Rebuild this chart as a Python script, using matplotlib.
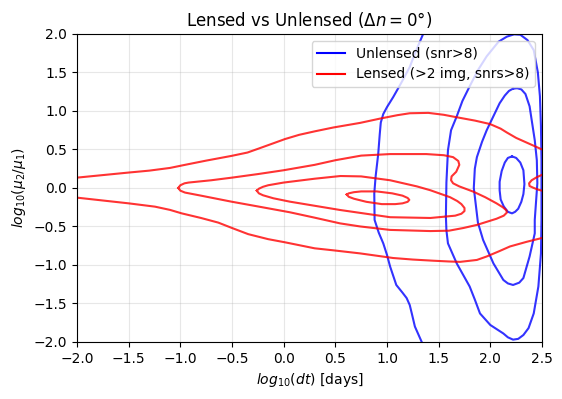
import numpy as np
import matplotlib
matplotlib.use('Agg')
import matplotlib.pyplot as plt
from matplotlib.lines import Line2D

# contour lines (x = log10 dt, y = log10 mu2/mu1)
# lensed, outermost level (leaves the axes on both sides)
lens_out_up_x = [-2.05, -2.0, -1.5, -1.3, -1.1, -0.955, -0.75, -0.506, -0.35, -0.245, -0.1, 0.013, 0.15, 0.30, 0.48, 0.74, 0.93, 1.1, 1.22, 1.40, 1.55, 1.675, 1.85, 1.997, 2.10, 2.16, 2.25, 2.35, 2.5, 2.55]
lens_out_up_y = [0.125, 0.134, 0.20, 0.225, 0.26, 0.30, 0.355, 0.416, 0.46, 0.51, 0.58, 0.635, 0.69, 0.735, 0.785, 0.845, 0.90, 0.945, 0.97, 0.975, 0.95, 0.918, 0.875, 0.83, 0.77, 0.72, 0.65, 0.59, 0.50, 0.47]
lens_out_lo_x = [-2.05, -2.0, -1.5, -1.245, -1.1, -0.987, -0.8, -0.633, -0.5, -0.343, -0.15, 0.013, 0.30, 0.48, 0.74, 1.06, 1.25, 1.448, 1.6, 1.707, 1.87, 1.965, 2.08, 2.19, 2.35, 2.5, 2.55]
lens_out_lo_y = [-0.12, -0.126, -0.2, -0.243, -0.285, -0.33, -0.39, -0.45, -0.52, -0.60, -0.665, -0.706, -0.784, -0.81, -0.85, -0.91, -0.93, -0.945, -0.955, -0.96, -0.935, -0.89, -0.825, -0.76, -0.70, -0.65, -0.63]

# lensed, second level
lens_2_x = [-1.02, -1.0, -0.96, -0.92, -0.70, -0.50, -0.25, 0.0, 0.30, 0.50, 0.75, 1.03, 1.38, 1.55, 1.64, 1.69, 1.70, 1.67, 1.625, 1.62, 1.64, 1.70, 1.835, 1.95, 2.06, 2.12, 2.155, 2.16, 2.13, 2.06, 1.87, 1.74, 1.6, 1.42, 1.03, 0.74, 0.545, 0.30, 0.06, -0.25, -0.506, -0.80, -0.955, -1.0, -1.02]
lens_2_y = [0.0, 0.035, 0.06, 0.07, 0.10, 0.134, 0.18, 0.23, 0.30, 0.36, 0.42, 0.44, 0.44, 0.425, 0.40, 0.35, 0.30, 0.21, 0.15, 0.10, 0.06, 0.02, -0.048, -0.12, -0.2, -0.25, -0.29, -0.32, -0.36, -0.40, -0.48, -0.52, -0.555, -0.56, -0.545, -0.50, -0.46, -0.386, -0.316, -0.24, -0.178, -0.10, -0.06, -0.035, 0.0]

# lensed, third level
lens_3_x = [-0.26, -0.24, -0.20, -0.15, 0.0, 0.30, 0.55, 0.75, 1.03, 1.29, 1.42, 1.61, 1.68, 1.72, 1.75, 1.75, 1.72, 1.66, 1.42, 1.03, 0.545, 0.06, -0.10, -0.20, -0.24, -0.26]
lens_3_y = [-0.035, -0.01, 0.015, 0.035, 0.07, 0.12, 0.155, 0.15, 0.10, 0.02, -0.03, -0.12, -0.17, -0.21, -0.26, -0.30, -0.335, -0.36, -0.39, -0.38, -0.286, -0.178, -0.134, -0.095, -0.07, -0.035]

# lensed, innermost level
lens_4_x = [0.61, 0.63, 0.68, 0.75, 0.90, 1.05, 1.15, 1.20, 1.216, 1.20, 1.15, 1.08, 0.95, 0.80, 0.68, 0.63, 0.61]
lens_4_y = [-0.085, -0.07, -0.055, -0.045, -0.045, -0.07, -0.10, -0.13, -0.155, -0.18, -0.20, -0.21, -0.21, -0.18, -0.14, -0.115, -0.085]

# lensed, small piece at the right edge
lens_edge_x = [2.55, 2.5, 2.45, 2.40, 2.375, 2.38, 2.42, 2.47, 2.5, 2.55]
lens_edge_y = [0.20, 0.17, 0.14, 0.10, 0.06, 0.025, 0.0, -0.025, -0.035, -0.05]

# unlensed, outermost level (only left side inside axes)
unl_1_x = [1.37, 1.35, 1.28, 1.22, 1.14, 1.06, 1.0, 0.964, 0.94, 0.93, 0.915, 0.89, 0.877, 0.88, 0.92, 0.964, 1.0, 1.03, 1.09, 1.15, 1.19, 1.22, 1.24, 1.27, 1.336, 1.35]
unl_1_y = [2.05, 2.0, 1.78, 1.57, 1.37, 1.18, 1.05, 0.96, 0.85, 0.70, 0.44, 0.15, -0.07, -0.415, -0.58, -0.72, -0.87, -1.02, -1.26, -1.36, -1.43, -1.52, -1.63, -1.80, -2.0, -2.05]

# unlensed, second level
unl_2_x = [1.57, 1.575, 1.59, 1.62, 1.675, 1.73, 1.80, 1.88, 1.965, 2.08, 2.16, 2.23, 2.29, 2.36, 2.42, 2.46, 2.48, 2.49, 2.495, 2.495, 2.49, 2.465, 2.42, 2.37, 2.32, 2.27, 2.22, 2.17, 2.126, 2.0, 1.90, 1.85, 1.80, 1.675, 1.59, 1.575, 1.57]
unl_2_y = [-0.37, 0.07, 0.49, 0.75, 0.93, 1.13, 1.32, 1.53, 1.71, 1.90, 1.965, 1.995, 1.99, 1.92, 1.79, 1.5, 1.19, 0.8, 0.36, -0.415, -0.85, -1.28, -1.63, -1.82, -1.91, -1.96, -1.97, -1.94, -1.89, -1.78, -1.63, -1.45, -1.28, -0.98, -0.72, -0.55, -0.37]

# unlensed, third level
unl_3_x = [2.22, 2.26, 2.30, 2.34, 2.38, 2.43, 2.45, 2.455, 2.43, 2.43, 2.38, 2.32, 2.28, 2.22, 2.17, 2.126, 2.03, 1.93, 1.88, 1.84, 1.85, 1.87, 1.92, 1.965, 2.09, 2.14, 2.18, 2.22]
unl_3_y = [1.29, 1.295, 1.28, 1.22, 1.06, 0.62, 0.36, 0.06, -0.415, -0.59, -0.89, -1.17, -1.23, -1.26, -1.24, -1.195, -0.98, -0.675, -0.45, 0.0, 0.25, 0.40, 0.60, 0.75, 1.10, 1.20, 1.26, 1.29]

# unlensed, innermost level
unl_4_x = [2.21, 2.25, 2.29, 2.32, 2.33, 2.32, 2.30, 2.27, 2.24, 2.21, 2.17, 2.13, 2.10, 2.09, 2.09, 2.11, 2.14, 2.17, 2.21]
unl_4_y = [0.41, 0.39, 0.33, 0.23, 0.05, -0.08, -0.18, -0.27, -0.31, -0.33, -0.31, -0.24, -0.15, -0.03, 0.08, 0.22, 0.33, 0.39, 0.41]

red_lines = [(lens_out_up_x, lens_out_up_y), (lens_out_lo_x, lens_out_lo_y),
             (lens_2_x, lens_2_y), (lens_3_x, lens_3_y), (lens_4_x, lens_4_y),
             (lens_edge_x, lens_edge_y)]
blue_lines = [(unl_1_x, unl_1_y), (unl_2_x, unl_2_y), (unl_3_x, unl_3_y), (unl_4_x, unl_4_y)]

fig = plt.figure(figsize=(5.62, 3.99), dpi=100)
ax = fig.add_axes([0.137, 0.143, 0.8274, 0.7719])

for xs, ys in blue_lines:
    ax.plot(xs, ys, color='b', alpha=0.8, lw=1.5, solid_joinstyle='round')
for xs, ys in red_lines:
    ax.plot(xs, ys, color='r', alpha=0.8, lw=1.5, solid_joinstyle='round')

ax.set_xlim(-2.0, 2.5)
ax.set_ylim(-2.0, 2.0)
ax.set_xticks(np.arange(-2.0, 2.51, 0.5))
ax.set_yticks(np.arange(-2.0, 2.01, 0.5))
ax.grid(alpha=0.3)
ax.set_title(r'Lensed vs Unlensed ($\Delta n = 0\degree$)')
ax.set_xlabel(r'$log_{10}(dt)$ [days]')
ax.set_ylabel(r'$log_{10}(\mu_2/\mu_1)$')

handles = [Line2D([], [], color='b', lw=1.5), Line2D([], [], color='r', lw=1.5)]
ax.legend(handles, ['Unlensed (snr>8)', 'Lensed (>2 img, snrs>8)'], loc='upper right')

fig.savefig('out.png', dpi=100)
